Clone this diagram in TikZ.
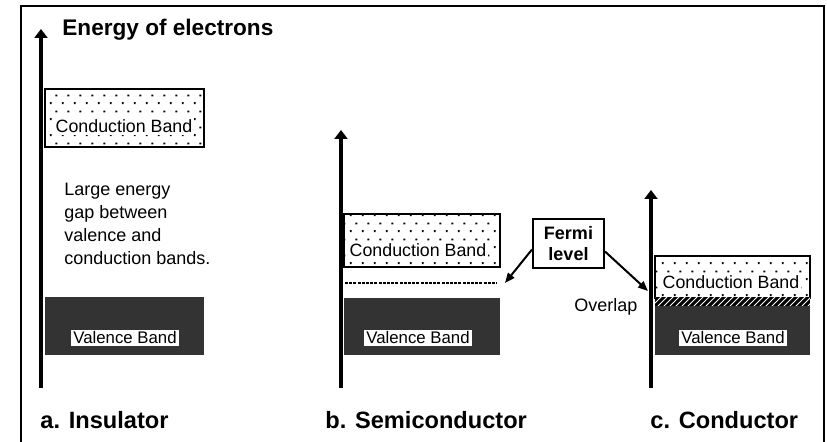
\documentclass[tikz,border=0pt]{standalone}
\usepackage{fontspec}
\setmainfont{Liberation Sans}
\usetikzlibrary{arrows.meta,positioning,patterns,patterns.meta}

\tikzdeclarepattern{
  name=banddots,
  type=uncolored,
  bounding box={(0,0) and (6pt,8pt)},
  tile size={(6pt,8pt)},
  code={
    \fill (1pt,1pt) rectangle ++(1pt,1pt);
    \fill (4pt,5pt) rectangle ++(1pt,1pt);
  }
}

\begin{document}
\begin{tikzpicture}[x=0.5pt, y=-0.5pt,
    axis/.style={line width=2pt, -{Triangle[width=6.5pt,length=4.5pt]}},
    band/.style={rectangle, anchor=north west, inner sep=0pt, line width=1pt},
    condband/.style={band, draw, pattern=banddots},
    valband/.style={band, fill=black!80},
    overlapband/.style={band, fill=black, postaction={pattern=north east lines, pattern color=white}},
    bandlabel/.style={fill=white, inner sep=1pt, font=\fontsize{8.4}{10}\selectfont},
    plainlabel/.style={font=\fontsize{9}{11.4}\selectfont},
    caption/.style={anchor=base west, inner sep=0pt, font=\fontsize{11.8}{13}\selectfont\bfseries},
    pointer/.style={line width=1pt, -{Triangle[width=4pt,length=5pt]}}
  ]
  \useasboundingbox (0,0) rectangle (827,442);
  \draw[line width=1.2pt] (21,442) -- (21,6) -- (824,6) -- (824,442);

  \node[caption, font=\fontsize{11.3}{13}\selectfont\bfseries] (title) at (62,36) {Energy of electrons};

  % a. insulator
  \node[condband, minimum width=79.5pt, minimum height=29pt] (cbA) at (44,88) {};
  \node[bandlabel, font=\fontsize{8.9}{10}\selectfont] (cbAlab) at (124,126) {Conduction Band};
  \node[valband, minimum width=79.5pt, minimum height=29pt] (vbA) at (44,296) {};
  \node[bandlabel] (vbAlab) at (125,338) {Valence Band};
  \node[plainlabel, anchor=north west, align=left, inner sep=0pt] (gap) at (64,183)
    {Large energy\\gap between\\valence and\\conduction bands.};
  \coordinate (axAlow) at (41,388);
  \coordinate (axAtop) at (41,29);
  \draw[axis] (axAlow) -- (axAtop);

  % b. semiconductor
  \node[condband, minimum width=78pt, minimum height=26.5pt] (cbB) at (343,213) {};
  \node[bandlabel, font=\fontsize{8.9}{10}\selectfont] (cbBlab) at (418,250) {Conduction Band};
  \node[valband, minimum width=78pt, minimum height=28.5pt] (vbB) at (343,297) {};
  \node[bandlabel] (vbBlab) at (418,338) {Valence Band};
  \coordinate (fermiB0) at (345,283);
  \coordinate (fermiB1) at (497,283);
  \draw[line width=1pt, dash pattern=on 1.5pt off 0.6pt] (fermiB0) -- (fermiB1);
  \coordinate (axBlow) at (341,388);
  \coordinate (axBtop) at (341,130);
  \draw[axis] (axBlow) -- (axBtop);

  % c. conductor
  \node[condband, minimum width=77.5pt, minimum height=21pt] (cbC) at (654,255) {};
  \node[bandlabel, font=\fontsize{8.9}{10}\selectfont] (cbClab) at (731,282) {Conduction Band};
  \node[overlapband, minimum width=77.5pt, minimum height=4pt] (ovC) at (654,297) {};
  \node[valband, minimum width=77.5pt, minimum height=24.5pt] (vbC) at (654,305) {};
  \node[bandlabel] (vbClab) at (733,338) {Valence Band};
  \node[plainlabel] (overlap) at (606,307) {Overlap};
  \coordinate (axClow) at (651,388);
  \coordinate (axCtop) at (651,190);
  \draw[axis] (axClow) -- (axCtop);

  % fermi level
  \node[draw, line width=1pt, align=center, inner sep=2pt,
        minimum width=35.5pt, minimum height=24.5pt,
        font=\fontsize{9}{10.5}\selectfont\bfseries] (fermi) at (568.5,243.5) {Fermi\\level};
  \coordinate (fermiC) at (648,291);
  \draw[pointer] ([yshift=-3pt]fermi.west) -- ([xshift=4pt]fermiB1);
  \draw[pointer] ([yshift=-4pt]fermi.east) -- (fermiC);

  \node[caption] (capA) at (40,429) {a. Insulator};
  \node[caption] (capB) at (325,429) {b. Semiconductor};
  \node[caption] (capC) at (650,429) {c. Conductor};
\end{tikzpicture}
\end{document}
